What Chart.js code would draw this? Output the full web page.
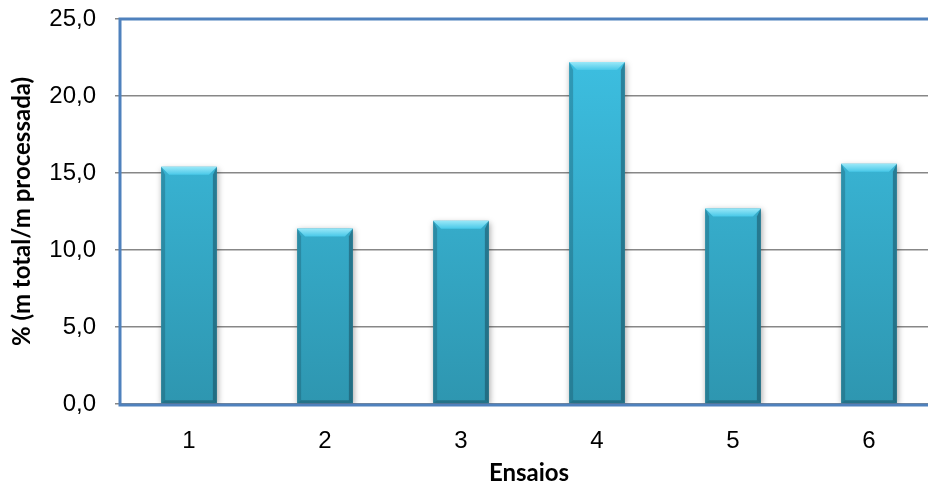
<!DOCTYPE html>
<html>
<head>
<meta charset="utf-8">
<script src="https://cdn.jsdelivr.net/npm/chart.js@4/dist/chart.umd.min.js"></script>
<style>
  html, body { margin: 0; padding: 0; background: #fff; overflow: hidden; width: 928px; height: 488px; }
  #grafico { display: block; }
</style>
</head>
<body>
<canvas id="grafico" width="945" height="488"></canvas>
<script>
// dados do gráfico
const ensaios = ['1', '2', '3', '4', '5', '6'];
const percentuais = [15.4, 11.4, 11.9, 22.2, 12.7, 15.6];
const tituloY = '% (m total/m processada)';
const tituloX = 'Ensaios';

const AZUL_BORDA = '#4f81bd';
const CINZA_GRADE = '#878787';

// gradiente vertical da face da barra
function faceBarra(context) {
  const chart = context.chart;
  const area = chart.chartArea;
  if (!area) return '#3bbbdd';
  const g = chart.ctx.createLinearGradient(0, area.top, 0, area.bottom);
  g.addColorStop(0, '#3ec3e6');
  g.addColorStop(1, '#2e96b0');
  return g;
}

// sombra das barras
const sombraPlugin = {
  id: 'sombra',
  beforeDatasetsDraw(chart) {
    const ctx = chart.ctx;
    ctx.save();
    ctx.shadowColor = 'rgba(0,0,0,0.35)';
    ctx.shadowBlur = 6;
    ctx.shadowOffsetX = 1;
    ctx.shadowOffsetY = 2;
  },
  afterDatasetsDraw(chart) {
    chart.ctx.restore();
  }
};

// chanfro nas bordas de cada barra
const chanfroPlugin = {
  id: 'chanfro',
  afterDatasetsDraw(chart) {
    const ctx = chart.ctx;
    const meta = chart.getDatasetMeta(0);
    meta.data.forEach(bar => {
      const p = bar.getProps(['x', 'y', 'width', 'base'], true);
      const l = p.x - p.width / 2, r = p.x + p.width / 2;
      const t = p.y, b = p.base;
      const bt = 8, bs = 4;
      ctx.save();
      // lado esquerdo
      ctx.beginPath();
      ctx.moveTo(l, t); ctx.lineTo(l + bs, t + bt); ctx.lineTo(l + bs, b - 3); ctx.lineTo(l, b);
      ctx.closePath();
      ctx.fillStyle = 'rgba(20,70,85,0.3)';
      ctx.fill();
      // lado direito
      ctx.beginPath();
      ctx.moveTo(r, t); ctx.lineTo(r - bs, t + bt); ctx.lineTo(r - bs, b - 3); ctx.lineTo(r, b);
      ctx.closePath();
      ctx.fillStyle = 'rgba(20,60,75,0.45)';
      ctx.fill();
      // fundo
      ctx.beginPath();
      ctx.moveTo(l, b); ctx.lineTo(l + bs, b - 3); ctx.lineTo(r - bs, b - 3); ctx.lineTo(r, b);
      ctx.closePath();
      ctx.fillStyle = 'rgba(20,60,75,0.4)';
      ctx.fill();
      // topo
      const g = ctx.createLinearGradient(0, t, 0, t + bt);
      g.addColorStop(0, '#9ae8f8');
      g.addColorStop(1, '#48c8e8');
      ctx.beginPath();
      ctx.moveTo(l, t); ctx.lineTo(r, t); ctx.lineTo(r - bt, t + bt); ctx.lineTo(l + bt, t + bt);
      ctx.closePath();
      ctx.fillStyle = g;
      ctx.fill();
      ctx.restore();
    });
  }
};

// moldura azul da área de plotagem
const molduraPlugin = {
  id: 'moldura',
  afterDraw(chart) {
    const { ctx, chartArea } = chart;
    ctx.save();
    ctx.strokeStyle = AZUL_BORDA;
    ctx.lineWidth = 3;
    ctx.strokeRect(chartArea.left - 1, chartArea.top, chartArea.right - chartArea.left + 1, chartArea.bottom - chartArea.top + 1);
    ctx.restore();
  }
};

function gerarGrafico() {
  const ctx = document.getElementById('grafico').getContext('2d');
  new Chart(ctx, {
    type: 'bar',
    data: {
      labels: ensaios,
      datasets: [{
        data: percentuais,
        backgroundColor: faceBarra,
        borderWidth: 0,
        categoryPercentage: 1,
        barPercentage: 0.41
      }]
    },
    options: {
      responsive: false,
      animation: false,
      layout: { padding: { top: 19, right: 8, left: 0, bottom: 0 } },
      plugins: {
        legend: { display: false },
        tooltip: { enabled: false }
      },
      scales: {
        y: {
          min: 0,
          max: 25,
          afterFit: scale => {
            scale.width = 121;
            scale.paddingTop = 0;
            scale.paddingBottom = 0;
          },
          ticks: {
            stepSize: 5,
            color: '#000',
            padding: 19,
            font: { family: '"Liberation Sans", Arial, sans-serif', size: 24 },
            callback: v => v.toFixed(1).replace('.', ',')
          },
          grid: { color: CINZA_GRADE, lineWidth: 1.5, tickLength: 6, drawTicks: true },
          border: { display: false },
          title: {
            display: true,
            text: tituloY,
            color: '#000',
            padding: { top: 8, bottom: 0 },
            font: { family: 'Lato, "Open Sans", sans-serif', size: 24, weight: 'bold' }
          }
        },
        x: {
          afterFit: scale => { scale.height = 84; },
          grid: { display: false },
          border: { display: false },
          ticks: {
            color: '#000',
            padding: 15,
            font: { family: '"Liberation Sans", Arial, sans-serif', size: 24 }
          },
          title: {
            display: true,
            text: tituloX,
            color: '#000',
            padding: { top: 0, bottom: 0 },
            font: { family: 'Lato, "Open Sans", sans-serif', size: 24, weight: 'bold' }
          }
        }
      }
    },
    plugins: [sombraPlugin, chanfroPlugin, molduraPlugin]
  });
}

document.addEventListener('DOMContentLoaded', gerarGrafico);
</script>
</body>
</html>
